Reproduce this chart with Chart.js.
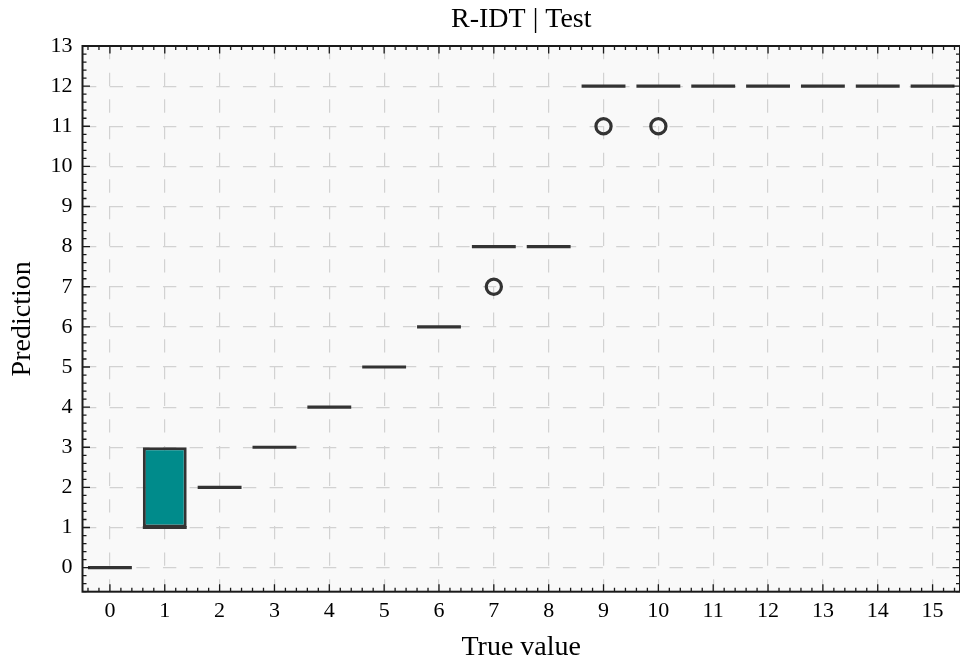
<!DOCTYPE html>
<html>
<head>
<meta charset="utf-8">
<script src="https://cdn.jsdelivr.net/npm/chart.js@4/dist/chart.umd.min.js"></script>
<style>
  html, body { margin: 0; padding: 0; background: #fff; }
  #wrap { width: 960px; height: 664px; }
</style>
</head>
<body>
<div id="wrap"><canvas id="boxes"></canvas></div>
<script>
// Box plot data per true value
const categories = ["0", "1", "2", "3", "4", "5", "6", "7", "8", "9", "10", "11", "12", "13", "14", "15"];
const q1 = [0, 1, 2, 3, 4, 5, 6, 8, 8, 12, 12, 12, 12, 12, 12, 12];
const medians = [0, 1, 2, 3, 4, 5, 6, 8, 8, 12, 12, 12, 12, 12, 12, 12];
const q3 = [0, 3, 2, 3, 4, 5, 6, 8, 8, 12, 12, 12, 12, 12, 12, 12];
const whiskerLow = [0, 1, 2, 3, 4, 5, 6, 8, 8, 12, 12, 12, 12, 12, 12, 12];
const whiskerHigh = [0, 3, 2, 3, 4, 5, 6, 8, 8, 12, 12, 12, 12, 12, 12, 12];
const outliers = [
  { x: "7", y: 7 },
  { x: "9", y: 11 },
  { x: "10", y: 11 },
];
const yTicks = [0, 1, 2, 3, 4, 5, 6, 7, 8, 9, 10, 11, 12, 13];

const EDGE = "#333333";
const BOX_HALF = 0.4;

// background, medians/whiskers, frame with inward ticks
const boxExtras = {
  id: "boxExtras",
  beforeDraw(chart) {
    const a = chart.chartArea;
    const ctx = chart.ctx;
    ctx.save();
    ctx.fillStyle = "#f9f9f9";
    ctx.fillRect(a.left, a.top, a.right - a.left, a.bottom - a.top);
    ctx.restore();
  },
  afterDatasetsDraw(chart) {
    const x = chart.scales.x;
    const y = chart.scales.y;
    const ctx = chart.ctx;
    ctx.save();
    ctx.strokeStyle = EDGE;
    ctx.lineWidth = 3.2;
    ctx.lineCap = "butt";
    for (let i = 0; i < categories.length; i++) {
      const xc = x.getPixelForValue(i);
      const x0 = x.getPixelForValue(i - BOX_HALF);
      const x1 = x.getPixelForValue(i + BOX_HALF);
      // whiskers
      ctx.beginPath();
      if (whiskerLow[i] < q1[i]) {
        ctx.moveTo(xc, y.getPixelForValue(q1[i]));
        ctx.lineTo(xc, y.getPixelForValue(whiskerLow[i]));
      }
      if (whiskerHigh[i] > q3[i]) {
        ctx.moveTo(xc, y.getPixelForValue(q3[i]));
        ctx.lineTo(xc, y.getPixelForValue(whiskerHigh[i]));
      }
      ctx.stroke();
      // median
      const ym = y.getPixelForValue(medians[i]);
      ctx.beginPath();
      ctx.moveTo(x0, ym);
      ctx.lineTo(x1, ym);
      ctx.stroke();
    }
    ctx.restore();
  },
  afterDraw(chart) {
    const a = chart.chartArea;
    const x = chart.scales.x;
    const y = chart.scales.y;
    const ctx = chart.ctx;
    ctx.save();
    ctx.strokeStyle = "#1a1a1a";
    ctx.lineWidth = 1.3;
    ctx.beginPath();
    // x ticks every 0.2, major on whole numbers
    for (let k = -2; k <= 77; k++) {
      const px = x.getPixelForValue(k / 5);
      if (px < a.left || px > a.right) continue;
      const len = k % 5 === 0 ? 7.5 : 4;
      ctx.moveTo(px, a.bottom);
      ctx.lineTo(px, a.bottom - len);
      ctx.moveTo(px, a.top);
      ctx.lineTo(px, a.top + len);
    }
    // y ticks every 0.2
    for (let k = -3; k <= 65; k++) {
      const py = y.getPixelForValue(k / 5);
      if (py < a.top || py > a.bottom) continue;
      const len = k % 5 === 0 ? 7.5 : 4;
      ctx.moveTo(a.left, py);
      ctx.lineTo(a.left + len, py);
      ctx.moveTo(a.right, py);
      ctx.lineTo(a.right - len, py);
    }
    ctx.stroke();
    ctx.lineWidth = 2;
    ctx.strokeRect(a.left, a.top, a.right - a.left, a.bottom - a.top);
    ctx.restore();
  },
};

const serif = "'Liberation Serif', 'Times New Roman', serif";

new Chart(document.getElementById("boxes"), {
  type: "bar",
  data: {
    labels: categories,
    datasets: [
      {
        label: "box",
        data: q1.map((v, i) => [v, q3[i]]),
        backgroundColor: "#008b8b",
        borderColor: EDGE,
        borderWidth: 3,
        borderSkipped: false,
        inflateAmount: 0,
        barPercentage: 0.8,
        categoryPercentage: 1,
        order: 2,
      },
      {
        type: "scatter",
        label: "outliers",
        data: outliers,
        pointStyle: "circle",
        pointRadius: 7.6,
        pointBorderWidth: 3.2,
        pointBorderColor: EDGE,
        pointBackgroundColor: "rgba(0,0,0,0)",
        order: 1,
      },
    ],
  },
  options: {
    responsive: true,
    maintainAspectRatio: false,
    animation: false,
    layout: { autoPadding: false, padding: { left: 0, right: -2, top: 0, bottom: 0 } },
    plugins: {
      legend: { display: false },
      tooltip: { enabled: false },
      title: {
        display: true,
        text: "R-IDT | Test",
        fullSize: false,
        color: "#000",
        font: { family: serif, size: 28, weight: "normal" },
        padding: { top: 3, bottom: 9.4 },
      },
    },
    scales: {
      x: {
        type: "category",
        offset: true,
        grid: { offset: false, color: "#d2d2d2", lineWidth: 1.2, drawTicks: false },
        border: { display: false, dash: [13.33, 13.33] },
        ticks: {
          color: "#000",
          font: { family: serif, size: 22 },
          padding: 6,
          maxRotation: 0,
          autoSkip: false,
        },
        title: {
          display: true,
          text: "True value",
          color: "#000",
          font: { family: serif, size: 28 },
          padding: { top: 0, bottom: 0 },
        },
        afterFit(axis) {
          axis.height = 72.3;
          axis.paddingLeft = 0;
          axis.paddingRight = 0;
        },
      },
      y: {
        type: "linear",
        min: -0.6,
        max: 13,
        afterBuildTicks(axis) {
          axis.ticks = yTicks.map((v) => ({ value: v }));
        },
        grid: { color: "#d2d2d2", lineWidth: 1.2, drawTicks: false },
        border: { display: false, dash: [13.33, 13.33] },
        ticks: {
          color: "#000",
          font: { family: serif, size: 22 },
          padding: 10,
        },
        title: {
          display: true,
          text: "Prediction",
          color: "#000",
          font: { family: serif, size: 28 },
          padding: { top: 6, bottom: 0 },
        },
        afterFit(axis) {
          axis.width = 82.5;
        },
      },
    },
  },
  plugins: [boxExtras],
});
</script>
</body>
</html>
